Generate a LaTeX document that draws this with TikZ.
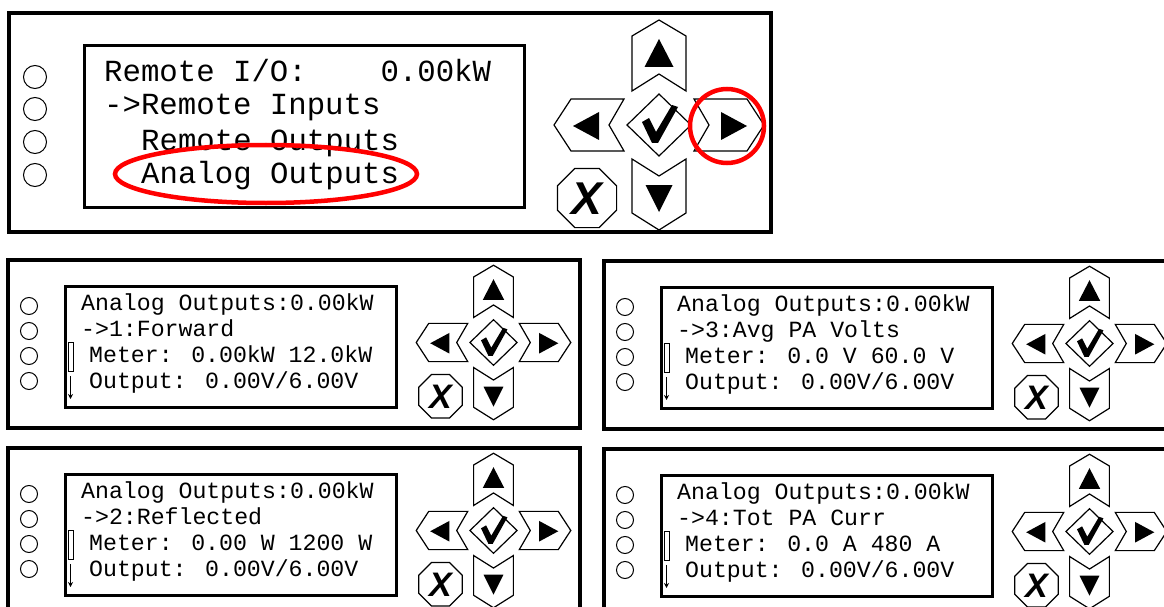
\documentclass[tikz,border=0pt]{standalone}
\usepackage{fontspec}
\newfontfamily\lcdfont{Liberation Mono}
\newfontfamily\xfont{Liberation Sans}
\usetikzlibrary{arrows.meta}
\tikzset{
  frame/.style={draw=black, line width=4.5pt},
  lcdbox/.style={draw=black, line width=3pt},
  knob/.style={draw=black, line width=1pt},
  btn/.style={draw=black, line width=1.2pt, fill=white, line join=miter},
  tri/.style={fill=black},
  bigtext/.style={anchor=base west, inner sep=0pt, font=\lcdfont\fontsize{30.7}{30.7}\selectfont},
  smalltext/.style={anchor=base west, inner sep=0pt, font=\lcdfont\fontsize{23.2}{23.2}\selectfont},
  hilite/.style={draw=red, line width=4.5pt},
  thinbar/.style={draw=black, line width=0.9pt},
}
% keypad: #1 name, #2 x, #3 y, #4 scale, #5 X font size
\newcommand\drawkeypad[5]{%
  \begin{scope}[shift={(#2,#3)}, scale=#4]
    % up
    \draw[btn] (0,-105) -- (27,-89) -- (27,-34) -- (0,-51) -- (-27,-34) -- (-27,-89) -- cycle;
    \fill[tri] (0,-86) -- (14.5,-58) -- (-14.5,-58) -- cycle;
    % down
    \draw[btn] (-27,34) -- (0,51) -- (27,34) -- (27,88) -- (0,105) -- (-27,88) -- cycle;
    \fill[tri] (-13.5,60) -- (13.5,60) -- (0,87) -- cycle;
    % left
    \draw[btn] (-105,0) -- (-88,-26) -- (-35,-26) -- (-50,0) -- (-35,26) -- (-88,26) -- cycle;
    \fill[tri] (-86,1) -- (-60,-13) -- (-60,15) -- cycle;
    % right
    \draw[btn] (105,0) -- (88,-26) -- (35,-26) -- (50,0) -- (35,26) -- (88,26) -- cycle;
    \fill[tri] (88,1) -- (62,-13) -- (62,15) -- cycle;
    % ok
    \draw[btn] (0,-31) -- (32,0) -- (0,31) -- (-32,0) -- cycle;
    \fill[tri] (-17,-3) -- (-10,-7) -- (-3,7) -- (13,-20) -- (19,-18) -- (-1,18) -- (-7,18) -- cycle;
    % cancel
    \draw[btn] (-42.4,85.2) -- (-59.8,102.6) -- (-84.2,102.6) -- (-101.6,85.2) -- (-101.6,60.8)
      -- (-84.2,43.4) -- (-59.8,43.4) -- (-42.4,60.8) -- cycle;
    \node[inner sep=0pt, font=\xfont\bfseries\itshape\fontsize{#5}{#5}\selectfont]
      (#1x) at (-72,74) {X};
  \end{scope}
}
% small panel: #1 name, #2 dx, #3 dy, #4 line 2, #5 line 3
\newcommand\smallpanel[5]{%
  \begin{scope}[shift={(#2,#3)}]
    \draw[frame] (8,260) rectangle (580,428);
    \draw[lcdbox] (65,286) rectangle (396,407);
    \foreach \yy in {306,331,356,381} \draw[knob] (29,\yy) circle[radius=8.5];
    \node[smalltext] (#1a) at (81,310) {Analog Outputs:0.00kW};
    \node[smalltext] (#1b) at (81,336) {#4};
    \node[smalltext] (#1c) at (89,362) {#5};
    \node[smalltext] (#1d) at (89,388) {Output: 0.00V/6.00V};
    \draw[thinbar] (68.5,342) rectangle (73,371);
    \draw[thinbar, -{Stealth[length=5pt,width=5pt]}] (70.5,376) -- (70.5,399);
    \drawkeypad{#1k}{493.5}{342.5}{0.736}{34}
  \end{scope}
}
\begin{document}
\begin{tikzpicture}[x=1pt,y=-1pt]
  \useasboundingbox (0,0) rectangle (1164,607);
  \fill[white] (0,0) rectangle (1164,607);
  \clip (0,0) rectangle (1164,607);
  % top panel
  \draw[frame] (9,13) rectangle (771,232);
  \draw[lcdbox] (84,46) rectangle (524,207);
  \foreach \yy in {77,109,142,175} \draw[knob] (35,\yy) circle[radius=11.5];
  \node[bigtext] (t1) at (104,82) {Remote I/O:~~~~0.00kW};
  \node[bigtext] (t2) at (104,115) {->Remote Inputs};
  \node[bigtext] (t3) at (141,150) {Remote Outputs};
  \node[bigtext] (t4) at (141,183) {Analog Outputs};
  \drawkeypad{top}{659}{125}{1}{46}
  \draw[hilite] (266,174) ellipse[x radius=151, y radius=29];
  \draw[hilite] (727,126) circle[radius=37];
  % small panels
  \smallpanel{ml}{0}{0}{->1:Forward}{Meter: 0.00kW 12.0kW}
  \smallpanel{mr}{596}{1}{->3:Avg PA Volts}{Meter: 0.0 V 60.0 V}
  \smallpanel{bl}{0}{188}{->2:Reflected}{Meter: 0.00 W 1200 W}
  \smallpanel{br}{596}{189}{->4:Tot PA Curr}{Meter: 0.0 A 480 A}
\end{tikzpicture}
\end{document}
